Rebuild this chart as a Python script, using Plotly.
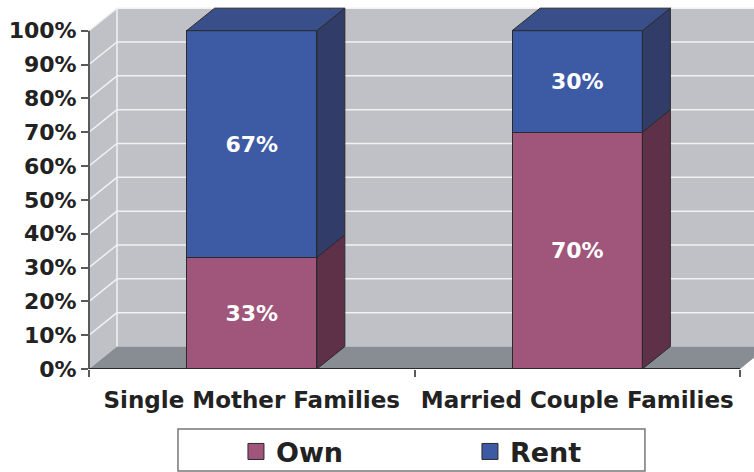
import plotly.graph_objects as go

categories = ["Single Mother Families", "Married Couple Families"]
own = [33, 70]
rent = [67, 30]
own_labels = ["33%", "70%"]
rent_labels = ["67%", "30%"]
tick_vals = [0, 10, 20, 30, 40, 50, 60, 70, 80, 90, 100]
tick_text = ["0%", "10%", "20%", "30%", "40%", "50%", "60%", "70%", "80%", "90%", "100%"]

OWN_FRONT = "#A0567A"
OWN_SIDE = "#5F3149"
RENT_FRONT = "#3D5AA4"
RENT_SIDE = "#313D68"
RENT_TOP = "#384F8A"
EDGE = "#2a2a2a"
WALL = "#BFC1C6"
FLOOR = "#878D93"
GRID = "#F2F2F2"

FONT = "DejaVu Sans"
BAR_W = 0.4
DX = 0.086   # depth offset in x units
DY = 6.65    # depth offset in y units
X0, X1 = -0.5, 1.5
XR = 1.543
YTOP = 107

fig = go.Figure()

# front faces (stacked bars)
fig.add_trace(go.Bar(x=categories, y=own, name="Own", marker=dict(color=OWN_FRONT, line=dict(color=EDGE, width=1)),
                     text=own_labels, textposition="inside", insidetextanchor="middle",
                     textfont=dict(color="white", size=22, family=FONT, weight="bold"),
                     width=BAR_W, showlegend=False, hoverinfo="skip"))
fig.add_trace(go.Bar(x=categories, y=rent, name="Rent", marker=dict(color=RENT_FRONT, line=dict(color=EDGE, width=1)),
                     text=rent_labels, textposition="inside", insidetextanchor="middle",
                     textfont=dict(color="white", size=22, family=FONT, weight="bold"),
                     width=BAR_W, showlegend=False, hoverinfo="skip"))

def poly(xs, ys, color):
    fig.add_trace(go.Scatter(x=xs + [xs[0]], y=ys + [ys[0]], xaxis="x2", yaxis="y", mode="lines",
                             fill="toself", fillcolor=color, line=dict(color=EDGE, width=1),
                             showlegend=False, hoverinfo="skip"))

# side and top faces computed from values
for i in range(len(categories)):
    xr = i + BAR_W / 2
    xl = i - BAR_W / 2
    o = own[i]
    t = own[i] + rent[i]
    poly([xr, xr, xr + DX, xr + DX], [0, o, o + DY, DY], OWN_SIDE)
    poly([xr, xr, xr + DX, xr + DX], [o, t, t + DY, o + DY], RENT_SIDE)
    poly([xl, xr, xr + DX, xl + DX], [t, t, t + DY, t + DY], RENT_TOP)

# legend entries
fig.add_trace(go.Scatter(x=[None], y=[None], xaxis="x2", mode="markers", name="Own",
                         marker=dict(symbol="square", size=16, color=OWN_FRONT, line=dict(color=EDGE, width=1))))
fig.add_trace(go.Scatter(x=[None], y=[None], xaxis="x2", mode="markers", name="Rent",
                         marker=dict(symbol="square", size=16, color=RENT_FRONT, line=dict(color=EDGE, width=1))))

shapes = []
# back wall
shapes.append(dict(type="rect", xref="x2", yref="y", x0=X0 + DX, x1=XR + 1, y0=DY, y1=100 + DY,
                   fillcolor=WALL, line=dict(width=0), layer="below"))
# side wall
shapes.append(dict(type="path", xref="x2", yref="y",
                   path=f"M {X0},0 L {X0},100 L {X0+DX},{100+DY} L {X0+DX},{DY} Z",
                   fillcolor=WALL, line=dict(width=0), layer="below"))
# floor
shapes.append(dict(type="path", xref="x2", yref="y",
                   path=f"M {X0},0 L {X1},0 L {X1+DX},{DY} L {X0+DX},{DY} Z",
                   fillcolor=FLOOR, line=dict(width=0), layer="below"))
# gridlines on back wall and side wall
for v in tick_vals[1:]:
    shapes.append(dict(type="line", xref="x2", yref="y", x0=X0 + DX, x1=XR + 1, y0=v + DY, y1=v + DY,
                       line=dict(color=GRID, width=1.5), layer="below"))
    shapes.append(dict(type="line", xref="x2", yref="y", x0=X0, x1=X0 + DX, y0=v, y1=v + DY,
                       line=dict(color=GRID, width=1.5), layer="below"))
shapes.append(dict(type="line", xref="x2", yref="y", x0=X0 + DX, x1=X0 + DX, y0=DY, y1=100 + DY,
                   line=dict(color=GRID, width=1.5), layer="below"))
# axis lines
shapes.append(dict(type="line", xref="paper", yref="y", x0=0, x1=0, y0=0, y1=100,
                   line=dict(color="#5a5a5a", width=2)))
shapes.append(dict(type="line", xref="x2", yref="y", x0=X0, x1=X1, y0=0, y1=0,
                   line=dict(color="#2a2a2a", width=2)))
# legend box
shapes.append(dict(type="rect", xref="paper", yref="paper", x0=0.1338, x1=0.836, y0=-0.2818, y1=-0.1657,
                   line=dict(color="#777777", width=1.5), fillcolor="rgba(0,0,0,0)"))

fig.update_layout(
    width=754, height=472,
    margin=dict(l=89, r=0, t=7, b=103, autoexpand=False),
    paper_bgcolor="white", plot_bgcolor="white",
    barmode="stack",
    font=dict(family=FONT, color="#222222"),
    xaxis=dict(type="category", range=[X0, XR], tickson="boundaries", ticks="outside", ticklen=7,
               tickcolor="#5a5a5a", tickwidth=2, showgrid=False, showline=False, zeroline=False,
               automargin=False, ticklabelstandoff=15,
               tickfont=dict(size=23, family=FONT, weight="bold", color="#222222")),
    xaxis2=dict(overlaying="x", range=[X0, XR], visible=False, showgrid=False, zeroline=False),
    yaxis=dict(range=[0, YTOP], tickvals=tick_vals, ticktext=tick_text, ticks="outside", ticklen=7,
               tickcolor="#5a5a5a", tickwidth=2, showgrid=False, showline=False, zeroline=False,
               automargin=False,
               tickfont=dict(size=22, family=FONT, weight="bold", color="#222222")),
    showlegend=True,
    legend=dict(orientation="h", x=0.221, xanchor="left", y=-0.229, yanchor="middle",
                entrywidth=189, entrywidthmode="pixels", traceorder="normal",
                font=dict(size=27, family=FONT, weight="bold", color="#222222"),
                bgcolor="rgba(0,0,0,0)", borderwidth=0),
    shapes=shapes,
)

fig.write_html("out.html", config={"displayModeBar": False},
               post_script="document.body.style.margin='0px';document.body.style.overflow='hidden';")
